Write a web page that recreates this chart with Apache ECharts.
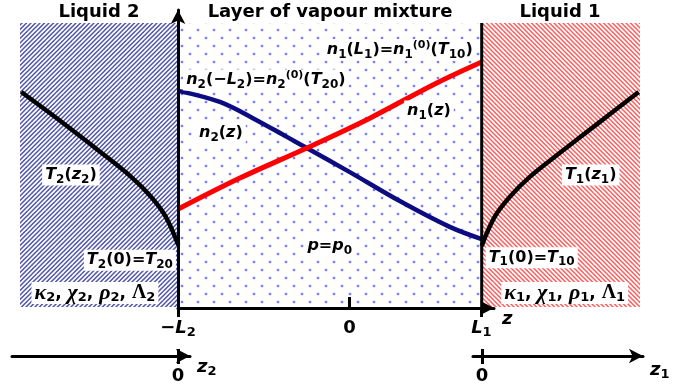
<!DOCTYPE html>
<html><head><meta charset="utf-8">
<script src="https://cdn.jsdelivr.net/npm/echarts@6/dist/echarts.min.js"></script>
<style>html,body{margin:0;padding:0;background:#fff}#c{width:691px;height:392px}</style>
</head><body><div id="c"></div>
<script>
// ---------------- data ----------------
const L1 = 1.0, L2 = 1.3;          // layer boundaries in z units
const zMin = -2.5, zMax = 2.2;     // extent of drawing along z
const yMax = 100;                  // arbitrary vertical units
// n2(z) – blue, decreasing
const n2Z    = [-1.3, -0.985, -0.735, -0.477, -0.326, 0, 0.379, 0.758, 1.0];
const n2Vals = [76.1, 72.2, 66.5, 59.9, 56.0, 47.5, 37.3, 28.2, 23.9];
// n1(z) – red, increasing
const n1Z    = [-1.3, -0.833, -0.326, 0.152, 0.659, 1.0];
const n1Vals = [34.5, 45.4, 56.0, 66.5, 78.9, 86.3];
// T2(z2) in liquid 2 (z2 <= 0)
const t2Z    = [-1.19, -0.894, -0.591, -0.364, -0.212, -0.098, 0];
const t2Vals = [75.7, 65.5, 54.6, 46.1, 39.1, 32.0, 21.8];
// T1(z1) in liquid 1 (z1 >= 0)
const t1Z    = [0, 0.098, 0.212, 0.364, 0.591, 0.894, 1.19];
const t1Vals = [21.5, 31.7, 38.7, 45.8, 54.2, 65.1, 75.7];
// tick labels
const zTicks   = [-L2, 0, L1];
const zTickTxt = ['{r|\u2212}{i|L}{s|2}', '{r|0}', '{i|L}{s|1}'];
const titles = ['Liquid 2', 'Layer of vapour mixture', 'Liquid 1'];
// annotations: text and anchor (z, value)
const annText = [
  '{i|n}{s|1}{r|(}{i|L}{s|1}{r|)=}{i|n}{s|1}{p|(0)}{r|(}{i|T}{s|10}{r|)}',
  '{i|n}{s|2}{r|(\u2212}{i|L}{s|2}{r|)=}{i|n}{s|2}{p|(0)}{r|(}{i|T}{s|20}{r|)}',
  '{i|n}{s|1}{r|(}{i|z}{r|)}',
  '{i|n}{s|2}{r|(}{i|z}{r|)}',
  '{i|p}{r|=}{i|p}{s|0}',
  '{i|T}{s|2}{r|(}{i|z}{s|2}{r|)}',
  '{i|T}{s|2}{r|(0)=}{i|T}{s|20}',
  '{g|\u03ba}{gs|2}{c|, }{g|\u03c7}{gs|2}{c|, }{g|\u03c1}{gs|2}{c|, }{G|\u039b}{gs|2}',
  '{i|T}{s|1}{r|(}{i|z}{s|1}{r|)}',
  '{i|T}{s|1}{r|(0)=}{i|T}{s|10}',
  '{g|\u03ba}{gs|1}{c|, }{g|\u03c7}{gs|1}{c|, }{g|\u03c1}{gs|1}{c|, }{G|\u039b}{gs|1}'
];
const annZ   = [0.379, -0.636, 0.6, -0.977, -0.152, -2.114, -1.667, -1.932, 1.826, 1.379, 1.629];
const annVal = [90.5, 79.9, 69.0, 61.3, 21.5, 46.5, 16.5, 4.9, 46.5, 17.3, 4.9];

// ---------------- styles ----------------
const FF = '"DejaVu Sans", sans-serif';
const rich = {
  i: {fontFamily: FF, fontWeight: 'bold', fontStyle: 'italic', fontSize: 16, lineHeight: 21, color: '#000'},
  r: {fontFamily: FF, fontWeight: 'bold', fontSize: 16, lineHeight: 21, color: '#000'},
  s: {fontFamily: FF, fontWeight: 'bold', fontSize: 12, lineHeight: 13, verticalAlign: 'bottom', color: '#000'},
  p: {fontFamily: FF, fontWeight: 'bold', fontSize: 11, lineHeight: 12, verticalAlign: 'top', color: '#000'},
  g: {fontFamily: '"Liberation Serif", serif', fontWeight: 'bold', fontStyle: 'italic', fontSize: 22, lineHeight: 22, color: '#000'},
  G: {fontFamily: '"Liberation Serif", serif', fontWeight: 'bold', fontSize: 20, lineHeight: 22, color: '#000'},
  gs: {fontFamily: FF, fontWeight: 'bold', fontSize: 13, lineHeight: 14, verticalAlign: 'bottom', color: '#000'},
  c: {fontFamily: FF, fontWeight: 'bold', fontSize: 17, lineHeight: 22, color: '#000'}
};
const axRich = {
  i: Object.assign({}, rich.i, {fontSize: 18, lineHeight: 22}),
  r: Object.assign({}, rich.r, {fontSize: 18, lineHeight: 22}),
  s: Object.assign({}, rich.s, {fontSize: 13, lineHeight: 14})
};

function stripeTile(color, dir) {
  const c = document.createElement('canvas'); c.width = 9; c.height = 9;
  const g = c.getContext('2d');
  g.fillStyle = '#fff'; g.fillRect(0, 0, 9, 9);
  g.strokeStyle = color; g.lineWidth = 1.5;
  for (let k = -4; k <= 8; k++) {
    const cc = k * 4.5; g.beginPath();
    if (dir > 0) { g.moveTo(cc + 20, -20); g.lineTo(cc - 20, 20); }
    else { g.moveTo(cc - 20, -20); g.lineTo(cc + 20, 20); }
    g.stroke();
  }
  return c;
}
function dotTile() {
  const c = document.createElement('canvas'); c.width = 16; c.height = 16;
  const g = c.getContext('2d');
  g.fillStyle = '#fff'; g.fillRect(0, 0, 16, 16);
  [[6, 14], [14, 6]].forEach(([x, y]) => {
    g.fillStyle = 'rgba(100,100,255,0.25)'; g.beginPath(); g.arc(x, y, 1.8, 0, Math.PI * 2); g.fill();
    g.fillStyle = '#6464ff'; g.beginPath(); g.arc(x, y, 1.1, 0, Math.PI * 2); g.fill();
  });
  return c;
}
const fills = [
  {image: stripeTile('#4f54a8', 1), repeat: 'repeat'},
  {image: dotTile(), repeat: 'repeat'},
  {image: stripeTile('#ff5c5c', -1), repeat: 'repeat'}
];
const regions = [[zMin, -L2, 0], [-L2, L1, 1], [L1, zMax, 2]];

const chart = echarts.init(document.getElementById('c'), null, {renderer: 'canvas', width: 691, height: 392});
const pxPerUnit = 620 / (zMax - zMin);
const black = '#000';
const arrowLine = {show: true, onZero: false, symbol: ['none', 'arrow'], symbolSize: [11, 14], lineStyle: {color: black, width: 3}};

const option = {
  animation: false,
  graphic: titles.map((t, k) => ({
    type: 'text', x: [99, 330, 560][k], y: 12, z: 100,
    style: {text: t, fontSize: 18, fontWeight: 'bold', fontFamily: FF, fill: black, align: 'center', verticalAlign: 'middle', textAlign: 'center', textVerticalAlign: 'middle'}
  })),
  grid: [
    {left: 20, top: 23, width: 620, height: 284},
    {left: 178, top: 10, width: 316, height: 298},
    {left: 12, top: 340, width: 178, height: 16},
    {left: 473, top: 340, width: 170, height: 16}
  ],
  xAxis: [
    {gridIndex: 0, type: 'value', min: zMin, max: zMax, show: false},
    {gridIndex: 1, type: 'value', min: -L2, max: -L2 + 316 / pxPerUnit, position: 'bottom', z: 20,
      axisLine: arrowLine,
      axisTick: {show: true, customValues: [-L2, L1], length: 9, lineStyle: {color: black, width: 3}},
      axisLabel: {show: true, customValues: zTicks, margin: 9, formatter: v => zTickTxt[zTicks.findIndex(t => Math.abs(t - v) < 1e-6)], rich: axRich},
      splitLine: {show: false},
      name: '{i|z}', nameLocation: 'end', nameGap: 8, nameTextStyle: {rich: axRich, align: 'left', verticalAlign: 'top'}
    },
    {gridIndex: 1, type: 'value', min: -L2, max: -L2 + 316 / pxPerUnit, position: 'bottom', z: 20,
      axisLine: {show: false, onZero: false},
      axisTick: {show: true, inside: true, customValues: [0], length: 11, lineStyle: {color: black, width: 3}},
      axisLabel: {show: false}, splitLine: {show: false}
    },
    {gridIndex: 2, type: 'value', min: -166 / pxPerUnit, max: 12 / pxPerUnit, position: 'bottom', z: 20,
      axisLine: arrowLine,
      axisTick: {show: true, customValues: [0], length: 8, lineStyle: {color: black, width: 3}},
      axisLabel: {show: true, customValues: [0], margin: 9, formatter: () => '{r|0}', rich: axRich},
      splitLine: {show: false},
      name: '{i|z}{s|2}', nameLocation: 'end', nameGap: 7, nameTextStyle: {rich: axRich, align: 'left', verticalAlign: 'top'}
    },
    {gridIndex: 2, type: 'value', min: -166 / pxPerUnit, max: 12 / pxPerUnit, position: 'bottom', z: 20,
      axisLine: {show: false, onZero: false},
      axisTick: {show: true, inside: true, customValues: [0], length: 7, lineStyle: {color: black, width: 3}},
      axisLabel: {show: false}, splitLine: {show: false}
    },
    {gridIndex: 3, type: 'value', min: -9 / pxPerUnit, max: 161 / pxPerUnit, position: 'bottom', z: 20,
      axisLine: arrowLine,
      axisTick: {show: true, customValues: [0], length: 8, lineStyle: {color: black, width: 3}},
      axisLabel: {show: true, customValues: [0], margin: 9, formatter: () => '{r|0}', rich: axRich},
      splitLine: {show: false},
      name: '{i|z}{s|1}', nameLocation: 'end', nameGap: 7, nameTextStyle: {rich: axRich, align: 'left', verticalAlign: 'top', padding: [3, 0, 0, 0]}
    },
    {gridIndex: 3, type: 'value', min: -9 / pxPerUnit, max: 161 / pxPerUnit, position: 'bottom', z: 20,
      axisLine: {show: false, onZero: false},
      axisTick: {show: true, inside: true, customValues: [0], length: 7, lineStyle: {color: black, width: 3}},
      axisLabel: {show: false}, splitLine: {show: false}
    }
  ],
  yAxis: [
    {gridIndex: 0, type: 'value', min: 0, max: yMax, show: false},
    {gridIndex: 1, type: 'value', min: 0, max: 1, z: 20, axisLine: arrowLine, axisTick: {show: false}, axisLabel: {show: false}, splitLine: {show: false}},
    {gridIndex: 2, type: 'value', min: 0, max: 1, show: false},
    {gridIndex: 3, type: 'value', min: 0, max: 1, show: false}
  ],
  series: [
    {type: 'custom', xAxisIndex: 0, yAxisIndex: 0, silent: true, z: 1, data: regions, encode: {x: [0, 1]},
      renderItem: (params, api) => {
        const p0 = api.coord([api.value(0), yMax]);
        const p1 = api.coord([api.value(1), 0]);
        return {type: 'rect', shape: {x: p0[0], y: p0[1], width: p1[0] - p0[0], height: p1[1] - p0[1]}, style: {fill: fills[api.value(2)]}};
      }
    },
    {type: 'line', xAxisIndex: 0, yAxisIndex: 0, z: 5, symbol: 'none', smooth: 0.35,
      data: n2Z.map((z, i) => [z, n2Vals[i]]), lineStyle: {color: '#0c0c80', width: 4.5}},
    {type: 'line', xAxisIndex: 0, yAxisIndex: 0, z: 5, symbol: 'none', smooth: 0.35,
      data: n1Z.map((z, i) => [z, n1Vals[i]]), lineStyle: {color: '#ff0000', width: 5}},
    {type: 'line', xAxisIndex: 0, yAxisIndex: 0, z: 5, symbol: 'none', smooth: 0.35,
      data: t2Z.map((z2, i) => [z2 - L2, t2Vals[i]]), lineStyle: {color: black, width: 4.5}},
    {type: 'line', xAxisIndex: 0, yAxisIndex: 0, z: 5, symbol: 'none', smooth: 0.35,
      data: t1Z.map((z1, i) => [z1 + L1, t1Vals[i]]), lineStyle: {color: black, width: 4.5}},
    {type: 'line', xAxisIndex: 0, yAxisIndex: 0, z: 6, symbol: 'none',
      data: [[L1, 0], [L1, yMax]], lineStyle: {color: black, width: 3}},
    {type: 'scatter', xAxisIndex: 0, yAxisIndex: 0, z: 30, symbolSize: 1, silent: true,
      itemStyle: {color: 'rgba(0,0,0,0)', opacity: 1},
      data: annText.map((t, k) => ({value: [annZ[k], annVal[k]], label: {formatter: t}})),
      label: {show: true, position: 'inside', opacity: 1, backgroundColor: '#fff', padding: [0, 3, 0, 3], rich: rich}
    }
  ]
};
chart.setOption(option);
</script></body></html>
